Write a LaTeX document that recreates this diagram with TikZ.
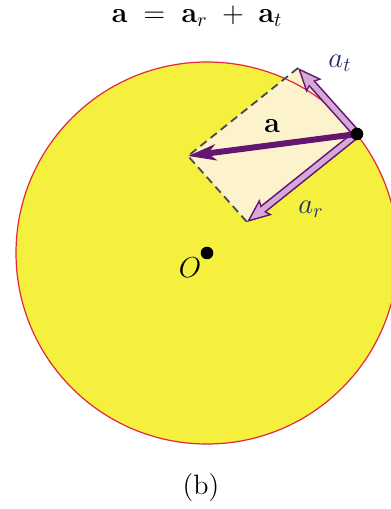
\documentclass[tikz,border=0pt]{standalone}
\usetikzlibrary{arrows.meta, calc}
\usepackage{xcolor}
\definecolor{disk}{RGB}{245,240,62}
\definecolor{rim}{RGB}{225,40,60}
\definecolor{cream}{RGB}{252,243,205}
\definecolor{vecpurple}{RGB}{98,22,112}
\definecolor{lavender}{RGB}{215,168,218}
\definecolor{navy}{RGB}{35,45,110}

\begin{document}
\begin{tikzpicture}[x=0.5pt, y=0.5pt,
  vec/.style={line width=3pt, vecpurple,
    -{Stealth[length=14pt, width=8pt, inset=4pt]}},
  comp/.style={line width=4.2pt, vecpurple,
    -{Stealth[length=12pt, width=10pt, inset=2pt, fill=lavender, line width=0.7pt]}},
  compin/.style={line width=2.6pt, lavender, shorten >=9pt},
  guide/.style={dash pattern=on 4pt off 2.5pt, line width=0.9pt, black!70},
  lbl/.style={font=\fontsize{14}{16}\selectfont, inner sep=0pt},
  dot/.style={circle, fill=black, minimum size=6.3pt, inner sep=0pt}]
\useasboundingbox (0,0) rectangle (391,509);
\coordinate (O) at (207,256);
\coordinate (P) at (357,375);
\coordinate (T) at (298,441);
\coordinate (R) at (247,287);
\coordinate (A) at ($(T)+(R)-(P)$);
% disk and parallelogram
\fill[disk] (O) circle[radius=191];
\fill[cream] (P) -- (T) -- (A) -- (R) -- cycle;
\draw[rim, line width=0.6pt] (O) circle[radius=191];
\draw[guide] (T) -- (A) -- (R);
% components
\draw[comp] (P) -- (T);
\draw[compin] (P) -- (T);
\draw[comp] (P) -- (R);
\draw[compin] (P) -- (R);
% resultant
\draw[vec] (P) -- (A);
\node[dot] (part) at (P) {};
\node[dot] (orig) at (O) {};
% labels
\node[lbl] (title) at (197,493) {$\mathbf{a} \;=\; \mathbf{a}_r \;+\; \mathbf{a}_t$};
\node[lbl] (la) at (272,383) {$\mathbf{a}$};
\node[lbl, navy] (lat) at (340,446) {$a_t$};
\node[lbl, navy] (lar) at (311,300) {$a_r$};
\node[lbl] (lo) at (190,241) {$O$};
\node[lbl] (cap) at (201,21) {(b)};
\end{tikzpicture}
\end{document}
